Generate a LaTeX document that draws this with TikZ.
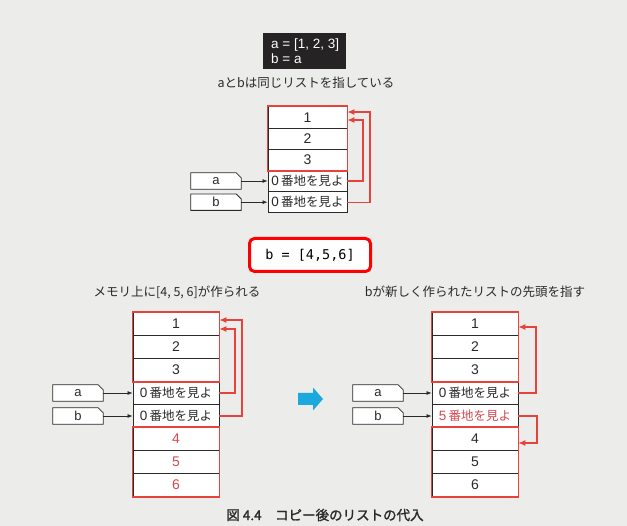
\documentclass[tikz,border=0pt]{standalone}
\usepackage{fontspec}
\setmainfont{Noto Sans CJK JP}
\newfontfamily\latin{Liberation Sans}
\newfontfamily\mono{DejaVu Sans Mono}
\newfontfamily\jp{Noto Sans CJK JP}
\newfontfamily\jpbold{Noto Sans CJK JP}[FakeBold=1.5]
\usetikzlibrary{arrows.meta}

\definecolor{page}{HTML}{ECECEA}
\definecolor{lred}{HTML}{E5433B}
\definecolor{tred}{HTML}{D9474F}
\definecolor{ink}{HTML}{2A2A2A}
\definecolor{flow}{HTML}{1BA8DF}
\definecolor{codebg}{HTML}{262324}

% address text inside a cell
\newcommand{\addr}[1]{{\latin\fontsize{13.5}{14}\selectfont #1}\,番地を見よ}

\tikzset{
  cell/.style={draw=ink, line width=0.9pt, fill=white, minimum height=#1,
    inner sep=0pt, font=\latin\fontsize{14}{15}\selectfont, text=ink},
  cell/.default=21.2pt,
  addrcell/.style={font=\jp\fontsize{12.5}{13}\selectfont},
  redframe/.style={draw=lred, line width=1.7pt},
  var/.style={minimum width=50pt, minimum height=16pt, inner sep=0pt,
    font=\latin\fontsize{13}{14}\selectfont, text=ink},
  varoutline/.style={draw=ink, line width=0.8pt, fill=white},
  ptr/.style={draw=ink, line width=0.7pt, -{Latex[length=5pt,width=4pt]}},
  refarrow/.style={draw=lred, line width=1.1pt, -{Latex[length=7pt,width=6pt]}},
  caption/.style={font=\jp\fontsize{12.5}{14}\selectfont, text=ink},
}

% outline of a variable label: box with a clipped top-right corner
\newcommand{\varbox}[1]{%
  \draw[varoutline] (#1.south west) -- (#1.north west)
    -- ([xshift=-5pt]#1.north east) -- ([yshift=-5pt]#1.north east)
    -- (#1.south east) -- cycle;}

\begin{document}
\begin{tikzpicture}[x=1pt, y=-1pt]
\fill[page] (0,0) rectangle (627,526);
\useasboundingbox (0,0) rectangle (627,526);

% ---------- code of the first step ----------
\node[fill=codebg, minimum width=83pt, minimum height=36pt, inner sep=0pt] (code) at (304.5,51) {};
\node[anchor=west, text=white, font=\latin\fontsize{13.5}{14}\selectfont,
      align=left, inner sep=0pt] (codetxt) at (271,51) {a = [1, 2, 3]\\[1pt]b = a};

\node[caption] (cap1) at (306,83) {aとbは同じリストを指している};

% ---------- first memory picture ----------
\foreach \n/\t [count=\i from 0] in {t1/1,t2/2,t3/3}
  \node[cell, minimum width=79pt] (\n) at (307.5,117.4+21.2*\i) {\t};
\node[cell, addrcell, minimum width=79pt] (ta) at (307.5,181) {\addr{0}};
\node[cell, addrcell, minimum width=79pt] (tb) at (307.5,202.2) {\addr{0}};
\draw[redframe] (t1.north west) rectangle (t3.south east);

\node[var] (va) at (216,181) {};
\node[var] (vb) at (216,202.2) {};
\varbox{va}\varbox{vb}
\node[var] at (va) {a};
\node[var] at (vb) {b};
\draw[ptr] (va.east) -- (ta.west);
\draw[ptr] (vb.east) -- (tb.west);

\coordinate (tin) at (363,120);
\coordinate (tout) at (370,112);
\draw[refarrow] (ta.east) -| (tin) -- (tin -| t1.east);
\draw[refarrow] (tb.east) -| (tout) -- (tout -| t1.east);

% ---------- new assignment ----------
\node[draw=red, line width=3pt, rounded corners=5pt, fill=white,
      minimum width=121pt, minimum height=33pt, inner sep=0pt,
      font=\mono\fontsize{13.5}{14}\selectfont, text=black] (assign) at (310,255) {b = [4,5,6]};

% ---------- second memory picture (left) ----------
\node[caption] (cap2) at (177,292) {メモリ上に[4, 5, 6]が作られる};

\foreach \n/\t [count=\i from 0] in {l1/1,l2/2,l3/3}
  \node[cell=23pt, minimum width=86pt] (\n) at (176,324+23*\i) {\t};
\node[cell=23pt, addrcell, minimum width=86pt] (la) at (176,393) {\addr{0}};
\node[cell=23pt, addrcell, minimum width=86pt] (lb) at (176,416) {\addr{0}};
\foreach \n/\t [count=\i from 5] in {l4/4,l5/5,l6/6}
  \node[cell=23pt, minimum width=86pt, text=tred] (\n) at (176,324+23*\i) {\t};
\draw[redframe] (l1.north west) rectangle (l3.south east);
\draw[redframe] (l4.north west) rectangle (l6.south east);

\node[var] (wa) at (78,393) {};
\node[var] (wb) at (78,416) {};
\varbox{wa}\varbox{wb}
\node[var] at (wa) {a};
\node[var] at (wb) {b};
\draw[ptr] (wa.east) -- (la.west);
\draw[ptr] (wb.east) -- (lb.west);

\coordinate (lin) at (235,329);
\coordinate (lout) at (242,320);
\draw[refarrow] (la.east) -| (lin) -- (lin -| l1.east);
\draw[refarrow] (lb.east) -| (lout) -- (lout -| l1.east);

% ---------- step arrow ----------
\fill[flow] (298,393) -- (313,393) -- (313,387.5) -- (323,399) -- (313,410.5)
  -- (313,405) -- (298,405) -- cycle;

% ---------- third memory picture (right) ----------
\node[caption] (cap3) at (475,292) {bが新しく作られたリストの先頭を指す};

\foreach \n/\t [count=\i from 0] in {r1/1,r2/2,r3/3}
  \node[cell=23pt, minimum width=86pt] (\n) at (475,324+23*\i) {\t};
\node[cell=23pt, addrcell, minimum width=86pt] (ra) at (475,393) {\addr{0}};
\node[cell=23pt, addrcell, minimum width=86pt, text=tred] (rb) at (475,416) {\addr{5}};
\foreach \n/\t [count=\i from 5] in {r4/4,r5/5,r6/6}
  \node[cell=23pt, minimum width=86pt] (\n) at (475,324+23*\i) {\t};
\draw[redframe] (r1.north west) rectangle (r3.south east);
\draw[redframe] (r4.north west) rectangle (r6.south east);

\node[var] (xa) at (378,393) {};
\node[var] (xb) at (378,416) {};
\varbox{xa}\varbox{xb}
\node[var] at (xa) {a};
\node[var] at (xb) {b};
\draw[ptr] (xa.east) -- (ra.west);
\draw[ptr] (xb.east) -- (rb.west);

\coordinate (rin) at (536,327);
\coordinate (rdown) at (537,443);
\draw[refarrow] (ra.east) -| (rin) -- (rin -| r1.east);
\draw[refarrow] (rb.east) -| (rdown) -- (rdown -| r4.east);

% ---------- figure caption ----------
\node[font=\jpbold\fontsize{13.5}{14}\selectfont, text=ink] (figcap) at (325,515)
  {図 4.4\hspace{1em}コピー後のリストの代入};
\end{tikzpicture}
\end{document}
